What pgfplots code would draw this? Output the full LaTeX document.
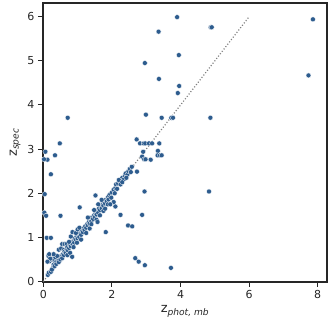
\documentclass[border=0pt]{standalone}
\usepackage{fontspec}
\setmainfont{DejaVu Sans}
\usepackage{pgfplots}
\pgfplotsset{compat=1.18}
\definecolor{pt}{RGB}{45,92,142}
\definecolor{spine}{RGB}{38,38,38}
\begin{document}
\begin{tikzpicture}
\begin{axis}[
  scale only axis, width=284pt, height=279pt,
  xmin=-0.01, xmax=8.27, ymin=-0.01, ymax=6.31,
  xtick={0,2,4,6,8}, ytick={0,1,2,3,4,5,6},
  xtick pos=bottom, ytick pos=left, tick align=outside,
  major tick length=5pt,
  axis line style={spine, line width=1.1pt},
  tick style={spine, line width=1pt},
  ticklabel style={font=\fontsize{11}{13}\selectfont, text=spine},
  /pgf/number format/assume math mode=true,
  xlabel={z\textsubscript{\itshape phot, mb}},
  ylabel={z\textsubscript{\itshape spec}},
  label style={font=\fontsize{13}{15}\selectfont, text=spine},
]
% diagonal cluster
\addplot[only marks, mark=*, mark size=2.5pt, mark options={fill=pt, draw=white, line width=0.3pt}] table {
x y
0.13 0.15
0.16 0.20
0.22 0.22
0.28 0.31
0.25 0.27
0.30 0.38
0.33 0.35
0.35 0.45
0.38 0.40
0.40 0.48
0.42 0.52
0.45 0.44
0.47 0.55
0.50 0.50
0.52 0.58
0.55 0.53
0.57 0.62
0.60 0.60
0.18 0.46
0.15 0.58
0.25 0.50
0.30 0.52
0.35 0.55
0.40 0.58
0.45 0.72
0.52 0.75
0.60 0.72
0.55 0.85
0.62 0.85
0.68 0.85
0.30 0.62
0.20 0.52
0.62 0.68
0.65 0.65
0.68 0.72
0.70 0.78
0.72 0.70
0.75 0.76
0.78 0.82
0.80 0.80
0.82 0.88
0.85 0.85
0.88 0.92
0.90 0.88
0.92 0.97
0.95 0.95
0.97 1.02
1.00 0.98
1.02 1.05
1.05 1.01
1.08 1.10
1.10 1.06
1.12 1.15
1.15 1.12
1.18 1.20
0.75 0.90
0.80 1.02
0.85 1.12
0.95 1.10
1.00 1.18
1.05 1.22
0.70 0.60
0.88 0.78
1.10 0.95
0.98 0.88
0.78 0.65
1.20 1.17
1.22 1.25
1.25 1.22
1.28 1.30
1.30 1.27
1.33 1.35
1.35 1.31
1.38 1.40
1.40 1.37
1.42 1.45
1.45 1.42
1.48 1.50
1.50 1.46
1.52 1.55
1.55 1.52
1.58 1.60
1.60 1.56
1.62 1.65
1.65 1.62
1.68 1.70
1.70 1.66
1.72 1.75
1.75 1.72
1.78 1.80
1.80 1.77
1.82 1.85
1.85 1.82
1.88 1.90
1.30 1.45
1.40 1.30
1.55 1.40
1.65 1.50
1.75 1.60
1.48 1.62
1.60 1.75
1.70 1.85
1.25 1.10
1.35 1.20
1.80 1.65
1.88 1.75
1.58 1.35
1.90 1.86
1.92 1.95
1.95 1.98
1.98 1.90
2.00 2.02
2.05 2.08
2.08 2.00
2.10 2.12
2.12 2.20
2.15 2.10
2.18 2.22
2.22 2.28
2.25 2.20
2.28 2.30
2.30 2.35
2.35 2.32
2.38 2.40
2.40 2.45
2.45 2.42
2.48 2.50
2.52 2.55
2.55 2.48
2.58 2.60
2.05 1.80
2.10 1.70
2.20 2.30
1.95 1.75
2.30 2.25
2.42 2.35
};
% outliers
\addplot[only marks, mark=*, mark size=2.5pt, mark options={fill=pt, draw=white, line width=0.3pt}] table {
x y
3.36 5.66
2.96 4.95
3.37 4.59
0.71 3.71
2.99 3.78
3.45 3.71
2.72 3.22
0.48 3.13
0.06 2.94
0.34 2.86
0.12 2.76
0.02 2.77
2.82 3.13
2.93 3.13
2.97 3.13
3.08 3.13
3.17 3.13
3.38 3.13
2.91 2.94
3.34 2.96
2.88 2.83
2.94 2.77
2.98 2.77
3.13 2.76
3.33 2.86
3.40 2.86
3.45 2.86
3.90 5.99
4.88 5.76
4.91 5.76
7.86 5.94
3.95 5.13
7.73 4.67
3.96 4.43
3.92 4.27
3.73 3.71
3.78 3.71
4.87 3.71
4.83 2.04
3.72 0.31
0.22 2.43
0.04 1.98
0.03 1.56
0.08 1.49
0.50 1.49
1.06 1.68
0.10 0.99
0.22 0.99
0.12 0.45
0.17 0.62
2.73 2.49
2.95 2.04
2.88 1.51
2.25 1.51
2.47 1.27
2.59 1.25
2.68 0.53
2.78 0.45
2.96 0.37
1.82 1.12
1.52 1.95
0.84 0.56
};
\addplot[gray, line width=1.2pt, dash pattern=on 1.1pt off 1.9pt] coordinates {(0,0) (6,6)};
\end{axis}
\path (current axis.south west) ++(-43pt,-48pt);
\path (current axis.north east) ++(3pt,3pt);
\end{tikzpicture}
\end{document}
